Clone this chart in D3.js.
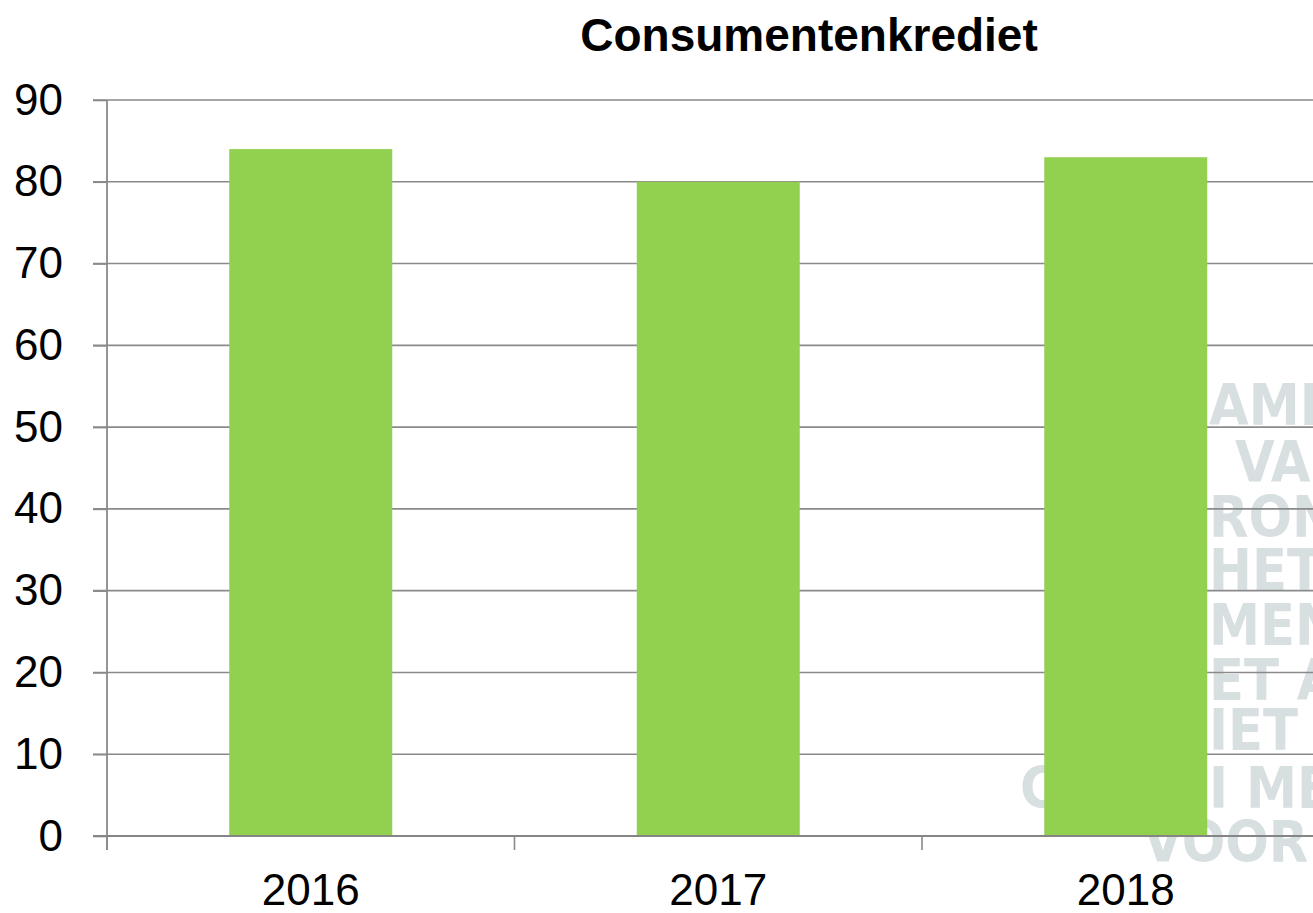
<!DOCTYPE html>
<html>
<head>
<meta charset="utf-8">
<script src="https://cdn.jsdelivr.net/npm/d3@7"></script>
<style>
  body { margin: 0; background: #fff; }
  svg { display: block; font-family: "Liberation Sans", Arial, sans-serif; }
</style>
</head>
<body>
<div id="chart"></div>
<script>
const title = "Consumentenkrediet";
const years = ["2016", "2017", "2018"];
const values = [84, 80, 83];
const yTicks = [0, 10, 20, 30, 40, 50, 60, 70, 80, 90];

// faint background logo text, partly hidden on the right
const watermark = [
    { text: "AMEN", x: 1209, y: 425 },
    { text: "VAN", x: 1235, y: 482 },
    { text: "RONI", x: 1209, y: 537 },
    { text: "HET", x: 1209, y: 590 },
    { text: "MEN", x: 1209, y: 645 },
    { text: "ET A", x: 1209, y: 700 },
    { text: "IET I", x: 1209, y: 750 },
    { text: "C", x: 1020, y: 808 },
    { text: "I ME", x: 1209, y: 808 },
    { text: "VOOR", x: 1143, y: 862 }
];

const width = 1313;
const height = 913;
const margin = { top: 100, left: 107, bottom: 836 };
const step = 407.5;

const svg = d3.select("#chart")
    .append("svg")
    .attr("width", width)
    .attr("height", height);

const x = d3.scaleBand()
    .domain(years)
    .range([margin.left, margin.left + step * years.length])
    .paddingInner(0.6)
    .paddingOuter(0.3);

const y = d3.scaleLinear()
    .domain([0, 90])
    .range([margin.bottom, margin.top]);

svg.append("g")
    .selectAll("text")
    .data(watermark)
    .enter()
    .append("text")
    .attr("x", d => d.x)
    .attr("y", d => d.y)
    .attr("fill", "#d8dfe0")
    .style("font-family", "'DejaVu Sans Condensed', 'DejaVu Sans', sans-serif")
    .style("font-stretch", "condensed")
    .style("font-weight", "bold")
    .style("font-size", "57px")
    .text(d => d.text);

// gridlines
svg.append("g")
    .selectAll("line")
    .data(yTicks.filter(d => d > 0))
    .enter()
    .append("line")
    .attr("x1", margin.left - 14)
    .attr("x2", width)
    .attr("y1", d => y(d))
    .attr("y2", d => y(d))
    .attr("stroke", "#8a8a8a")
    .attr("stroke-width", 1.6);

svg.append("g")
    .selectAll("rect")
    .data(values)
    .enter()
    .append("rect")
    .attr("x", (d, i) => x(years[i]))
    .attr("y", d => y(d))
    .attr("width", x.bandwidth())
    .attr("height", d => y(0) - y(d))
    .attr("fill", "#92d050");

// y axis
const yAxis = svg.append("g")
    .attr("transform", `translate(${margin.left},0)`)
    .call(d3.axisLeft(y).tickValues(yTicks).tickSize(14).tickPadding(30));
yAxis.select(".domain").remove();
yAxis.selectAll(".tick line").attr("stroke", "#8a8a8a").attr("stroke-width", 1.6);
yAxis.selectAll("text")
    .attr("fill", "#000")
    .style("font-size", "44px");

svg.append("line")
    .attr("x1", margin.left).attr("x2", margin.left)
    .attr("y1", y(90)).attr("y2", y(0) + 14)
    .attr("stroke", "#8a8a8a")
    .attr("stroke-width", 1.8);

// x axis baseline and band boundary ticks
svg.append("line")
    .attr("x1", margin.left - 14).attr("x2", width)
    .attr("y1", y(0)).attr("y2", y(0))
    .attr("stroke", "#858585")
    .attr("stroke-width", 2.2);

svg.append("g")
    .selectAll("line")
    .data(years)
    .enter()
    .append("line")
    .attr("x1", d => x(d) - x.step() * x.paddingOuter())
    .attr("x2", d => x(d) - x.step() * x.paddingOuter())
    .attr("y1", y(0))
    .attr("y2", y(0) + 14)
    .attr("stroke", "#8a8a8a")
    .attr("stroke-width", 1.6);

svg.append("g")
    .selectAll("text")
    .data(years)
    .enter()
    .append("text")
    .attr("x", d => x(d) + x.bandwidth() / 2)
    .attr("y", 905)
    .attr("text-anchor", "middle")
    .style("font-size", "44px")
    .text(d => d);

svg.append("text")
    .attr("x", 809)
    .attr("y", 51)
    .attr("text-anchor", "middle")
    .style("font-size", "46px")
    .style("font-weight", "bold")
    .text(title);
</script>
</body>
</html>
